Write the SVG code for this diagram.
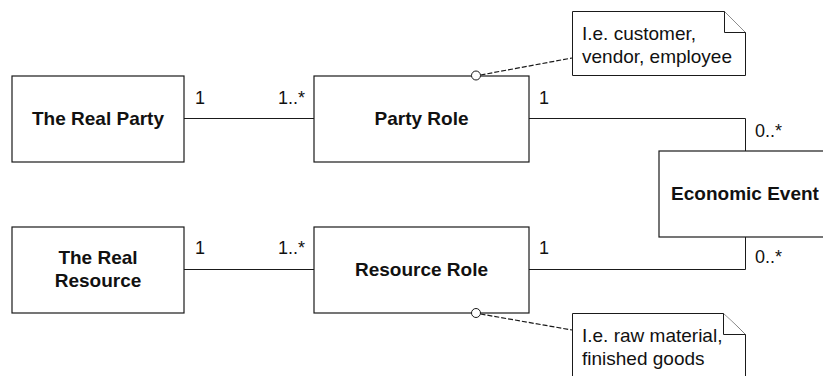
<svg xmlns="http://www.w3.org/2000/svg" width="823" height="376" viewBox="0 0 823 376">
<style>
.box{fill:#fff;stroke:#1a1a1a;stroke-width:1.2}
.note{fill:#fff;stroke:#1a1a1a;stroke-width:1}
.title{font-family:"Liberation Sans",Arial,sans-serif;font-size:19px;font-weight:bold;fill:#111;text-anchor:middle}
.lbl{font-family:"Liberation Sans",Arial,sans-serif;font-size:18px;fill:#111}
.ntxt{font-family:"Liberation Sans",Arial,sans-serif;font-size:19px;fill:#111}
.conn{fill:none;stroke:#1a1a1a;stroke-width:1}
.dash{fill:none;stroke:#1a1a1a;stroke-width:1.2;stroke-dasharray:5,2}
.anchor{fill:#fff;stroke:#1a1a1a;stroke-width:1}
</style>
<rect width="823" height="376" fill="#fff"/>
<g id="connectors">
<path class="conn" d="M184,118.5 H314"/>
<path class="conn" d="M529,118.5 H745.5 V151"/>
<path class="conn" d="M184,269.5 H314"/>
<path class="conn" d="M529,269.5 H745.5 V237"/>
<path class="dash" d="M480.5,75 L572,58"/>
<path class="dash" d="M480.5,314 L572,330"/>
<text class="lbl" x="195" y="104">1</text>
<text class="lbl" x="305" y="104" text-anchor="end">1..*</text>
<text class="lbl" x="539" y="104">1</text>
<text class="lbl" x="755" y="137">0..*</text>
<text class="lbl" x="195" y="254">1</text>
<text class="lbl" x="305" y="254" text-anchor="end">1..*</text>
<text class="lbl" x="539" y="254">1</text>
<text class="lbl" x="755" y="263">0..*</text>
</g>
<g id="real-party">
<rect class="box" x="12" y="76" width="172" height="86"/>
<text class="title" x="98" y="125">The Real Party</text>
</g>
<g id="party-role">
<rect class="box" x="314" y="76" width="215" height="86"/>
<text class="title" x="421.5" y="125">Party Role</text>
<circle class="anchor" cx="476" cy="75.5" r="4.5"/>
</g>
<g id="economic-event">
<rect class="box" x="659" y="151" width="172" height="86"/>
<text class="title" x="745" y="200">Economic Event</text>
</g>
<g id="real-resource">
<rect class="box" x="12" y="227" width="172" height="86"/>
<text class="title" x="98" y="264">The Real</text>
<text class="title" x="98" y="287">Resource</text>
</g>
<g id="resource-role">
<rect class="box" x="314" y="227" width="215" height="86"/>
<text class="title" x="421.5" y="276">Resource Role</text>
<circle class="anchor" cx="476" cy="313" r="4.5"/>
</g>
<g id="note-party">
<path class="note" d="M572.5,11.5 H724.5 L745.5,32.5 V75.5 H572.5 Z"/>
<path class="note" d="M724.5,11.5 V32.5 H745.5"/>
<text class="ntxt" x="582" y="40">I.e. customer,</text>
<text class="ntxt" x="582" y="63">vendor, employee</text>
</g>
<g id="note-resource">
<path class="note" d="M572.5,313.5 H723.5 L745.5,334.5 V380 H572.5 Z"/>
<path class="note" d="M723.5,313.5 V334.5 H745.5"/>
<text class="ntxt" x="582" y="342">I.e. raw material,</text>
<text class="ntxt" x="582" y="365">finished goods</text>
</g>
</svg>
